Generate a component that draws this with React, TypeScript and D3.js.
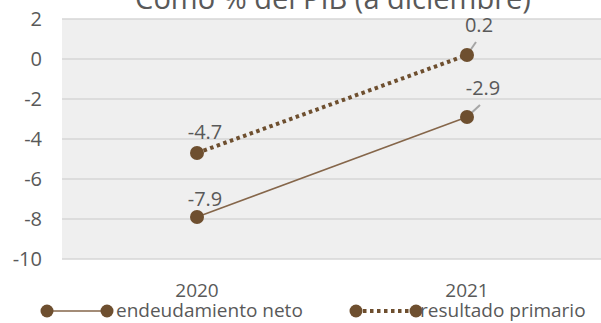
import React from "react";
import * as d3 from "d3";

const categories = ["2020", "2021"];
const endeudamientoNeto = [-7.9, -2.9];
const resultadoPrimario = [-4.7, 0.2];
const yTicks = [2, 0, -2, -4, -6, -8, -10];
const title = "Como % del PIB (a diciembre)";
const seriesNames = ["endeudamiento neto", "resultado primario"];

const W = 601;
const H = 323;
const brown = "#6e4f2f";
const lineBrown = "#85664a";
const textColor = "#595959";
const font = "'Open Sans', 'Noto Sans', sans-serif";

// label placement offsets (dx, dy from point) per series per category
const labelOffsets = {
  end: [
    [8, -11],
    [16, -22],
  ],
  res: [
    [8, -14],
    [12, -23],
  ],
};

export default function App() {
  const x = d3.scaleBand().domain(categories).range([62, 602]);
  const y = d3.scaleLinear().domain([-10, 2]).range([259, 19]);
  const cx = (c: string) => (x(c) as number) + x.bandwidth() / 2;
  const line = d3
    .line<number>()
    .x((_, i) => cx(categories[i]))
    .y((d) => y(d));

  const series = [
    { key: "end", vals: endeudamientoNeto, dash: undefined, width: 1.5, color: lineBrown },
    { key: "res", vals: resultadoPrimario, dash: "3.5,3.5", width: 4, color: brown },
  ];

  return (
    <svg
      width={W}
      height={H}
      style={{ position: "absolute", left: 0, top: 0, background: "#fff" }}
      fontFamily={font}
    >
      <text x={333} y={9} textAnchor="middle" fontSize={29} fill={textColor}>
        {title}
      </text>
      <rect x={62} y={19} width={W - 62} height={240} fill="#efefef" />
      {yTicks.map((t) => (
        <g key={t}>
          <line x1={62} x2={W} y1={y(t)} y2={y(t)} stroke="#d6d6d6" strokeWidth={1.5} />
          <text
            x={42}
            y={y(t)}
            dy="0.36em"
            textAnchor="end"
            fontSize={20}
            fill={textColor}
          >
            {t}
          </text>
        </g>
      ))}
      {categories.map((c) => (
        <text key={c} x={cx(c)} y={297} textAnchor="middle" fontSize={19} fill={textColor}>
          {c}
        </text>
      ))}
      {series.map((s) => (
        <g key={s.key}>
          <path
            d={line(s.vals) || ""}
            fill="none"
            stroke={s.color}
            strokeWidth={s.width}
            strokeDasharray={s.dash}
          />
          {s.vals.map((v, i) => {
            const px = cx(categories[i]);
            const py = y(v);
            const [dx, dy] = (labelOffsets as any)[s.key][i];
            return (
              <g key={i}>
                {i === 1 && (
                  <line
                    x1={px}
                    y1={py}
                    x2={px + dx - 3}
                    y2={py + dy + 10}
                    stroke="#a6a6a6"
                    strokeWidth={2}
                  />
                )}
                <circle cx={px} cy={py} r={7} fill={brown} />
                <text
                  x={px + dx}
                  y={py + dy}
                  textAnchor="middle"
                  fontSize={20}
                  fill={textColor}
                >
                  {v}
                </text>
              </g>
            );
          })}
        </g>
      ))}
      {/* legend */}
      <g>
        <line x1={47} x2={107} y1={311} y2={311} stroke={lineBrown} strokeWidth={1.5} />
        <circle cx={47} cy={311} r={6.5} fill={brown} />
        <circle cx={107} cy={311} r={6.5} fill={brown} />
        <text x={116} y={317} fontSize={19} fill={textColor}>
          {seriesNames[0]}
        </text>
        <line
          x1={356}
          x2={416}
          y1={311}
          y2={311}
          stroke={brown}
          strokeWidth={4}
          strokeDasharray="3.5,3.5"
        />
        <circle cx={356} cy={311} r={6.5} fill={brown} />
        <circle cx={416} cy={311} r={6.5} fill={brown} />
        <text x={420} y={317} fontSize={19} fill={textColor}>
          {seriesNames[1]}
        </text>
      </g>
    </svg>
  );
}
